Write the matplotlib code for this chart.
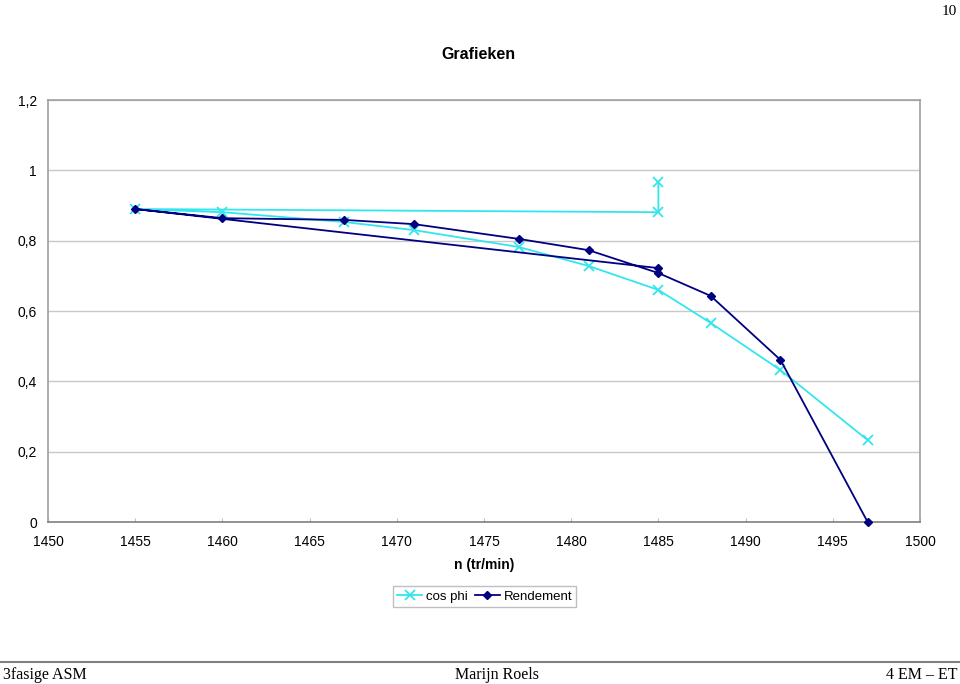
import matplotlib.pyplot as plt
from matplotlib.ticker import FuncFormatter

# data (order matters: Excel scatter with lines)
cos_n = [1485, 1485, 1455, 1460, 1467, 1471, 1477, 1481, 1485, 1488, 1492, 1497]
cos_phi = [0.967, 0.881, 0.890, 0.881, 0.853, 0.830, 0.782, 0.728, 0.660, 0.566, 0.432, 0.233]

rend_n = [1485, 1455, 1460, 1467, 1471, 1477, 1481, 1485, 1488, 1492, 1497]
rendement = [0.722, 0.890, 0.864, 0.859, 0.847, 0.805, 0.773, 0.708, 0.643, 0.461, 0.0]

xticks = list(range(1450, 1501, 5))
yticks = [0, 0.2, 0.4, 0.6, 0.8, 1.0, 1.2]

plt.rcParams['font.family'] = ['Liberation Sans', 'DejaVu Sans']

fig = plt.figure(figsize=(9.6, 6.84), dpi=100)
ax = fig.add_axes([0.05, 0.2368, 0.9083, 0.617])

ax.plot(cos_n, cos_phi, color='#33e6ee', lw=1.3, marker='x', ms=7, mew=1.3,
        label='cos phi', zorder=3)
ax.plot(rend_n, rendement, color='#000080', lw=1.3, marker='D', ms=4.5,
        label='Rendement', zorder=4, clip_on=False)

ax.set_xlim(1450, 1500)
ax.set_ylim(0, 1.2)
ax.set_xticks(xticks)
ax.set_yticks(yticks)


def comma(v, pos):
    s = ('%g' % v).replace('.', ',')
    return s


ax.yaxis.set_major_formatter(FuncFormatter(comma))
ax.grid(axis='y', color='#c8c8c8', lw=1)
ax.set_axisbelow(True)
for s in ax.spines.values():
    s.set_color('#a0a0a0')
    s.set_linewidth(1.2)
ax.spines['bottom'].set_color('#808080')
ax.tick_params(axis='x', direction='in', length=3, color='#c0c0c0',
               labelsize=10, pad=9)
ax.tick_params(axis='y', length=0, labelsize=10, pad=8)

ax.set_xlabel('n (tr/min)', fontsize=10, fontweight='bold', labelpad=7)
fig.text(0.498, 0.921, 'Grafieken', ha='center', va='center', fontsize=11.5,
         fontweight='bold')

leg = fig.legend(loc='center', bbox_to_anchor=(0.505, 0.128), ncol=2,
                 fontsize=9.5, frameon=True, fancybox=False, handlelength=1.9,
                 columnspacing=0.5, handletextpad=0.3, borderpad=0.3)
leg.get_frame().set_edgecolor('#b0b0b0')
leg.get_frame().set_linewidth(1)

# page header / footer
fig.text(0.997, 0.992, '10', ha='right', va='top', fontsize=11,
         family='Liberation Serif')
fig.add_artist(plt.Line2D([0, 1], [0.032, 0.032], color='#808080', lw=1.5))
fig.text(0.003, 0.013, '3fasige ASM', ha='left', va='center', fontsize=11.5,
         family='Liberation Serif')
fig.text(0.518, 0.013, 'Marijn Roels', ha='center', va='center', fontsize=11.5,
         family='Liberation Serif')
fig.text(0.997, 0.013, '4 EM – ET', ha='right', va='center', fontsize=11.5,
         family='Liberation Serif')

fig.savefig('out.png', dpi=100)
